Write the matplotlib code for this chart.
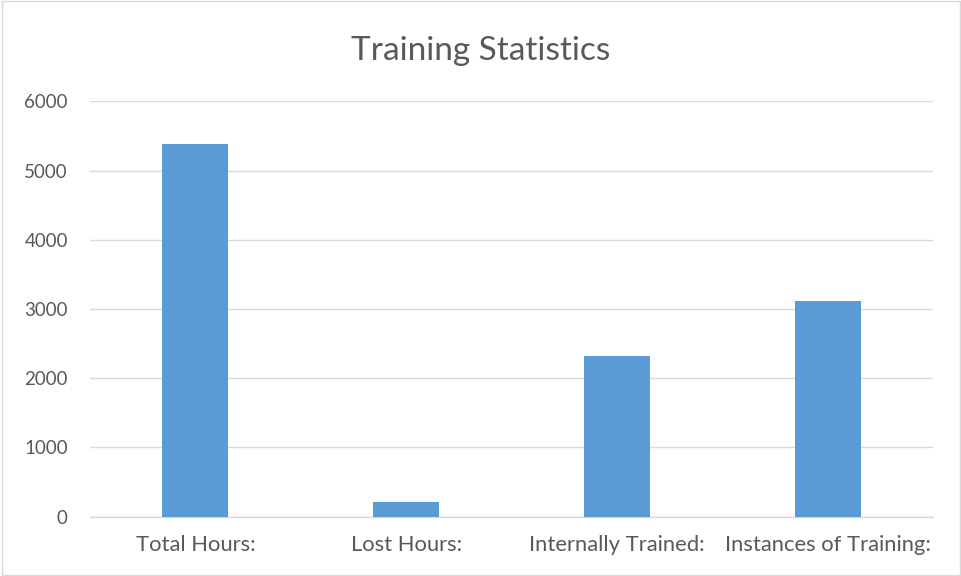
import matplotlib
matplotlib.use("Agg")
import matplotlib.pyplot as plt
import numpy as np
from matplotlib.patches import Rectangle

categories = ["Total Hours:", "Lost Hours:", "Internally Trained:", "Instances of Training:"]
values = [5385, 208, 2320, 3120]
y_ticks = [0, 1000, 2000, 3000, 4000, 5000, 6000]

plt.rcParams['font.family'] = ['Lato', 'DejaVu Sans']
text_color = '#595959'
grid_color = '#D9D9D9'

fig = plt.figure(figsize=(9.62, 5.76), dpi=100)
ax = fig.add_axes([0.0936, 0.1030, 0.8763, 0.7211])

x = np.arange(len(categories))
ax.bar(x, values, width=0.313, color='#5B9BD5', zorder=3)

ax.set_xlim(-0.5, len(categories) - 0.5)
ax.set_ylim(0, 6000)
ax.set_yticks(y_ticks)
ax.set_xticks(x)
ax.set_xticklabels(categories, fontsize=15.8)
ax.tick_params(axis='both', length=0, colors=text_color)
ax.tick_params(axis='y', pad=16, labelsize=13.5)
ax.tick_params(axis='x', pad=13)

ax.grid(axis='y', color=grid_color, linewidth=1, zorder=0)
for side in ['top', 'right', 'left']:
    ax.spines[side].set_visible(False)
ax.spines['bottom'].set_color(grid_color)
ax.spines['bottom'].set_linewidth(1)

fig.text(0.5, 0.912, "Training Statistics", ha='center', va='center',
         fontsize=24, color=text_color)

# light border around the whole chart area
fig.patches.append(Rectangle((0.002, 0.002), 0.996, 0.996, transform=fig.transFigure,
                             fill=False, edgecolor='#D9D9D9', linewidth=1))

plt.savefig('out.png', dpi=100)
plt.close()
